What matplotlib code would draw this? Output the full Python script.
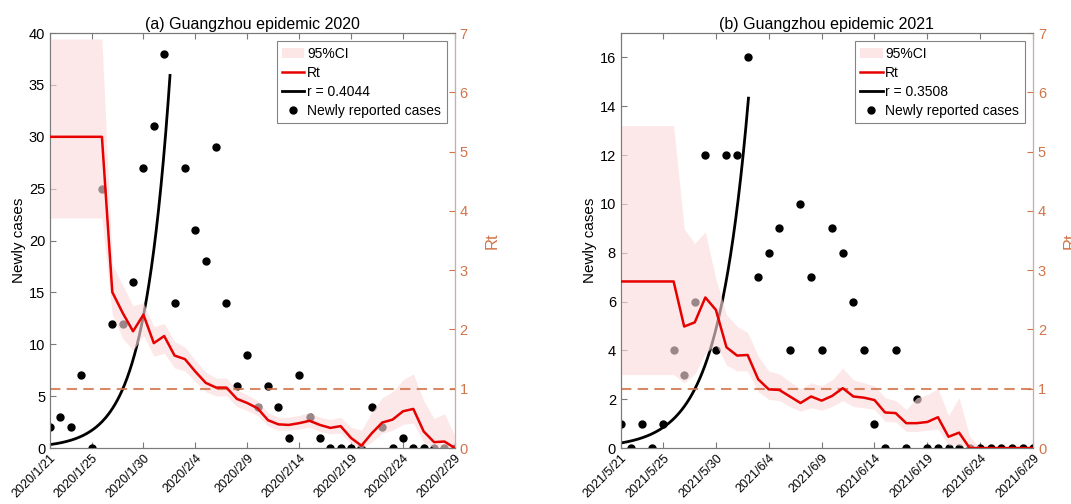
import numpy as np
import pandas as pd
import matplotlib
matplotlib.use("Agg")
import matplotlib.pyplot as plt
from matplotlib.patches import Patch
from matplotlib.lines import Line2D

plt.rcParams['font.family'] = ['Liberation Sans', 'DejaVu Sans']

# ---- data: Guangzhou 2020 ----
start_a = "2020-01-21"
cases_a = [2, 3, 2, 7, 0, 25, 12, 12, 16, 27, 31, 38, 14, 27, 21, 18, 29, 14, 6, 9,
           4, 6, 4, 1, 7, 3, 1, 0, 0, 0, 0, 4, 2, 0, 1, 0, 0, 0, 0, 0]
rt_a = [5.25, 5.25, 5.25, 5.25, 5.25, 5.25, 2.63, 2.28, 1.97, 2.25, 1.77, 1.89, 1.56, 1.50,
        1.29, 1.10, 1.02, 1.02, 0.83, 0.76, 0.67, 0.47, 0.40, 0.39, 0.42, 0.46, 0.39, 0.34,
        0.37, 0.17, 0.04, 0.25, 0.43, 0.48, 0.62, 0.66, 0.28, 0.10, 0.11, 0.00]
rt_lo_a = [3.88, 3.88, 3.88, 3.88, 3.88, 3.88, 2.25, 1.85, 1.65, 1.90, 1.55, 1.60, 1.35, 1.30,
           1.12, 0.95, 0.88, 0.88, 0.70, 0.63, 0.55, 0.37, 0.30, 0.30, 0.32, 0.35, 0.28, 0.24,
           0.25, 0.08, 0.00, 0.10, 0.25, 0.30, 0.40, 0.42, 0.10, 0.00, 0.00, 0.00]
rt_hi_a = [6.90, 6.90, 6.90, 6.90, 6.90, 6.90, 3.10, 2.75, 2.40, 2.45, 2.05, 2.10, 1.80, 1.70,
           1.48, 1.28, 1.18, 1.18, 0.98, 0.90, 0.80, 0.60, 0.52, 0.52, 0.55, 0.60, 0.52, 0.48,
           0.52, 0.35, 0.30, 0.60, 0.85, 0.95, 1.15, 1.25, 0.80, 0.50, 0.58, 0.20]
growth_a = 0.4044
amp_a = 0.335
fit_days_a = 11.56
ticks_a = ["2020/1/21", "2020/1/25", "2020/1/30", "2020/2/4", "2020/2/9",
           "2020/2/14", "2020/2/19", "2020/2/24", "2020/2/29"]

# ---- data: Guangzhou 2021 ----
start_b = "2021-05-21"
cases_b = [1, 0, 1, 0, 1, 4, 3, 6, 12, 4, 12, 12, 16, 7, 8, 9, 4, 10, 7, 4,
           9, 8, 6, 4, 1, 0, 4, 0, 2, 0, 0, 0, 0, 0, 0, 0, 0, 0, 0, 0]
rt_b = [2.81, 2.81, 2.81, 2.81, 2.81, 2.81, 2.05, 2.12, 2.54, 2.33, 1.70, 1.56, 1.57, 1.16,
        0.99, 0.98, 0.87, 0.76, 0.87, 0.80, 0.88, 1.01, 0.87, 0.85, 0.81, 0.60, 0.59, 0.42,
        0.42, 0.44, 0.52, 0.19, 0.26, 0.00, 0.00, 0.00, 0.00, 0.00, 0.00, 0.00]
rt_lo_b = [1.24, 1.24, 1.24, 1.24, 1.24, 1.24, 1.10, 1.25, 1.60, 1.75, 1.40, 1.30, 1.30, 0.95,
           0.82, 0.80, 0.70, 0.62, 0.68, 0.64, 0.70, 0.80, 0.70, 0.68, 0.65, 0.45, 0.44, 0.28,
           0.28, 0.30, 0.32, 0.05, 0.05, 0.00, 0.00, 0.00, 0.00, 0.00, 0.00, 0.00]
rt_hi_b = [5.44, 5.44, 5.44, 5.44, 5.44, 5.44, 3.70, 3.45, 3.65, 2.85, 2.25, 2.05, 1.95, 1.55,
           1.30, 1.25, 1.12, 1.00, 1.10, 1.05, 1.15, 1.35, 1.15, 1.10, 1.05, 0.85, 0.80, 0.65,
           0.85, 0.90, 1.00, 0.55, 0.85, 0.20, 0.00, 0.00, 0.00, 0.00, 0.00, 0.00]
growth_b = 0.3508
amp_b = 0.207
fit_days_b = 12.08
ticks_b = ["2021/5/21", "2021/5/25", "2021/5/30", "2021/6/4", "2021/6/9",
           "2021/6/14", "2021/6/19", "2021/6/24", "2021/6/29"]

ORANGE = '#D2744A'
SPINE = '#7a7a7a'
BAND = (0.985, 0.86, 0.86)


def draw_panel(ax, start, cases, rt, lo, hi, growth, amp, fit_days, ticks,
               ymax, yticks, title):
    dates = pd.date_range(start, periods=len(cases))
    t = np.linspace(0, fit_days, 200)
    fit_x = pd.Timestamp(start) + pd.to_timedelta(t, unit='D')

    ax.plot(fit_x, amp * np.exp(growth * t), color='black', lw=2, zorder=2)
    ax.plot(dates, cases, 'o', color='black', ms=5, zorder=3)
    ax.set_ylim(0, ymax)
    ax.set_yticks(yticks)
    ax.set_ylabel("Newly cases", fontsize=11, labelpad=2)

    ax2 = ax.twinx()
    ax2.fill_between(dates, lo, hi, color=BAND, alpha=0.62, lw=0, zorder=1)
    ax2.plot(dates, rt, color='#E60000', lw=1.8, zorder=3)
    ax2.axhline(1, color=ORANGE, lw=1.5, ls=(0, (5, 3)), alpha=0.85, zorder=2)
    ax2.set_ylim(0, 7)
    ax2.set_yticks(range(8))
    ax2.set_ylabel("Rt", color=ORANGE, fontsize=12, labelpad=12)
    ax2.tick_params(axis='y', colors=ORANGE, direction='in', labelsize=10.5, length=4)
    ax2.spines['right'].set_color('#DDA88E')
    for s in ['left', 'top', 'bottom']:
        ax2.spines[s].set_color(SPINE)

    ax.set_xlim(dates[0], dates[-1])
    ax.set_xticks(pd.to_datetime(ticks, format="%Y/%m/%d"))
    ax.set_xticklabels(ticks, rotation=45, ha='right', rotation_mode='anchor', fontsize=9)
    ax.tick_params(axis='x', direction='in', top=True, length=4, color=SPINE, pad=3)
    ax.tick_params(axis='y', direction='in', labelsize=10.5, length=4, color=SPINE)
    for s in ax.spines.values():
        s.set_color(SPINE)
    ax.set_title(title, fontsize=11.5, pad=3)

    handles = [Patch(facecolor=(0.99, 0.90, 0.90), edgecolor='none'),
               Line2D([], [], color='#E60000', lw=1.8),
               Line2D([], [], color='black', lw=2),
               Line2D([], [], color='black', marker='o', ls='none', ms=5)]
    labels = ["95%CI", "Rt", "r = %.4f" % growth, "Newly reported cases"]
    leg = ax2.legend(handles, labels, loc='upper right', fontsize=10, frameon=True,
                     fancybox=False, edgecolor='#666666', handlelength=1.6,
                     handletextpad=0.2, labelspacing=0.35, borderpad=0.4,
                     borderaxespad=0.6)
    leg.get_frame().set_linewidth(0.8)
    return ax2


fig = plt.figure(figsize=(10.71, 5.04), dpi=100)
ax_a = fig.add_axes([0.0467, 0.111, 0.378, 0.8234])
ax_b = fig.add_axes([0.5796, 0.111, 0.385, 0.8234])

draw_panel(ax_a, start_a, cases_a, rt_a, rt_lo_a, rt_hi_a, growth_a, amp_a, fit_days_a,
           ticks_a, 40, range(0, 41, 5), "(a) Guangzhou epidemic 2020")
draw_panel(ax_b, start_b, cases_b, rt_b, rt_lo_b, rt_hi_b, growth_b, amp_b, fit_days_b,
           ticks_b, 17, range(0, 17, 2), "(b) Guangzhou epidemic 2021")

fig.savefig("out.png", dpi=100)
